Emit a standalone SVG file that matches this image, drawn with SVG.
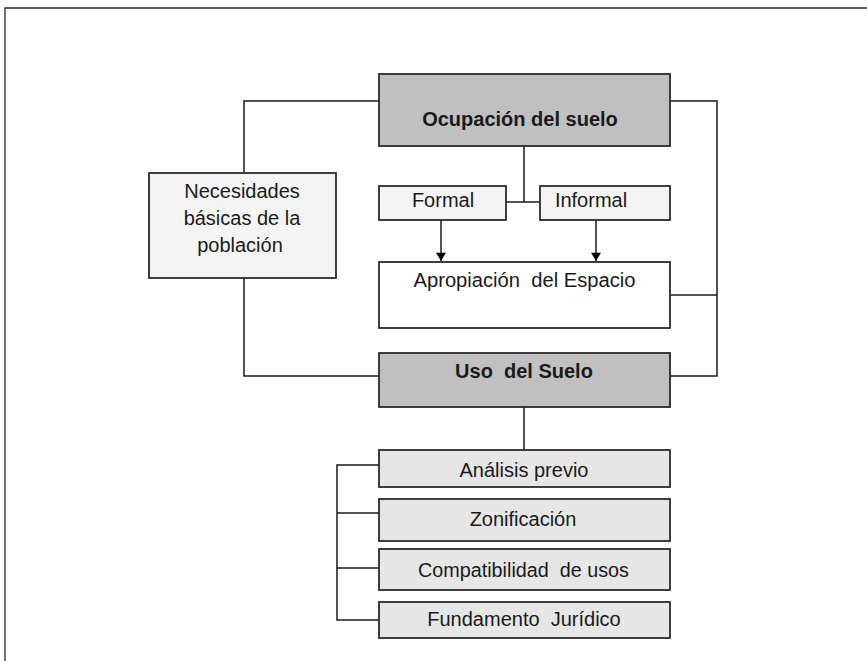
<svg xmlns="http://www.w3.org/2000/svg" width="867" height="661" viewBox="0 0 867 661">
<style>
  .box { stroke: #2a2a2a; stroke-width: 1.8; }
  .dark { fill: #c0c0c0; }
  .light { fill: #f4f4f4; }
  .white { fill: #ffffff; }
  .grey { fill: #e6e6e6; }
  .lbl { font-family: "Liberation Sans", Arial, sans-serif; font-size: 20px; fill: #1a1a1a; text-anchor: middle; }
  .bold { font-weight: bold; }
  .conn { fill: none; stroke: #1a1a1a; stroke-width: 1.5; }
  .frame { fill: none; stroke: #2a2a2a; stroke-width: 1.3; }
</style>
<defs>
  <marker id="arr" viewBox="0 0 10 12" refX="10" refY="6" markerWidth="12" markerHeight="10" markerUnits="userSpaceOnUse" orient="auto">
    <path d="M0,0 L10,6 L0,12 Z" fill="#000"/>
  </marker>
</defs>
<rect width="867" height="661" fill="#ffffff"/>
<path class="frame" d="M5,661 V8 H867"/>

<g id="connectors">
  <path class="conn" d="M379,101 H244 V172"/>
  <path class="conn" d="M244,278 V376 H379"/>
  <path class="conn" d="M670,101 H717 V376 H670"/>
  <path class="conn" d="M670,295 H717"/>
  <path class="conn" d="M524,146 V202"/>
  <path class="conn" d="M506,202 H540"/>
  <path class="conn" d="M441,220 V261" marker-end="url(#arr)"/>
  <path class="conn" d="M596,220 V261" marker-end="url(#arr)"/>
  <path class="conn" d="M524,407 V450"/>
  <path class="conn" d="M379,465 H337 V620 H379"/>
  <path class="conn" d="M337,513 H379"/>
  <path class="conn" d="M337,568 H379"/>
</g>

<g id="ocupacion">
  <rect class="box dark" x="379" y="74" width="291" height="72"/>
  <text class="lbl bold" x="520" y="126">Ocupación del suelo</text>
</g>
<g id="necesidades">
  <rect class="box light" x="149" y="173" width="187" height="105"/>
  <text class="lbl" x="242" y="198">Necesidades</text>
  <text class="lbl" x="242" y="225">básicas de la</text>
  <text class="lbl" x="240" y="252">población</text>
</g>
<g id="formal">
  <rect class="box light" x="379" y="186" width="127" height="34"/>
  <text class="lbl" x="443" y="207">Formal</text>
</g>
<g id="informal">
  <rect class="box light" x="540" y="186" width="130" height="34"/>
  <text class="lbl" x="591" y="207">Informal</text>
</g>
<g id="apropiacion">
  <rect class="box white" x="379" y="262" width="291" height="66"/>
  <text class="lbl" x="524.5" y="287" textLength="222" lengthAdjust="spacingAndGlyphs" xml:space="preserve">Apropiación  del Espacio</text>
</g>
<g id="uso">
  <rect class="box dark" x="379" y="353" width="291" height="54"/>
  <text class="lbl bold" x="524" y="378" xml:space="preserve">Uso  del Suelo</text>
</g>
<g id="analisis">
  <rect class="box grey" x="379" y="450" width="291" height="37"/>
  <text class="lbl" x="524" y="477">Análisis previo</text>
</g>
<g id="zonificacion">
  <rect class="box grey" x="379" y="499" width="291" height="42"/>
  <text class="lbl" x="523" y="526">Zonificación</text>
</g>
<g id="compatibilidad">
  <rect class="box grey" x="379" y="549" width="291" height="41"/>
  <text class="lbl" x="523.5" y="577" textLength="211" lengthAdjust="spacingAndGlyphs" xml:space="preserve">Compatibilidad  de usos</text>
</g>
<g id="fundamento">
  <rect class="box grey" x="379" y="602" width="291" height="36"/>
  <text class="lbl" x="524" y="626" xml:space="preserve">Fundamento  Jurídico</text>
</g>
</svg>
